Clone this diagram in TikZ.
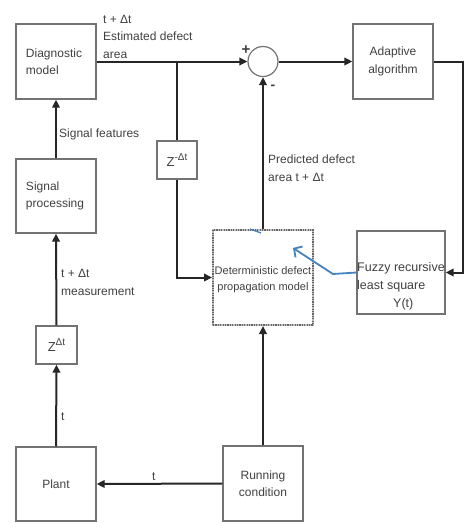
\documentclass[tikz,border=0pt]{standalone}
\usepackage{fontspec}
\setmainfont{Liberation Sans}
\usetikzlibrary{arrows.meta}
\definecolor{bl}{RGB}{70,130,190}
\begin{document}
\begin{tikzpicture}[x=1pt,y=-1pt,
  box/.style={draw=black!55, line width=1.3pt, inner sep=0pt, font=\fontsize{12}{17.5}\selectfont, text=black!75},
  conn/.style={draw=black!85, line width=2pt},
  arr/.style={conn, -{Triangle[length=8pt,width=7.5pt]}},
  lbl/.style={font=\fontsize{12}{17.5}\selectfont, text=black!75, inner sep=0pt, align=left},
  bluearr/.style={draw=bl, line width=1.8pt, -{Straight Barb[length=6pt,width=13pt]}},
]
\useasboundingbox (0,0) rectangle (468,523);
% boxes
\node[box, minimum width=80pt, minimum height=75pt, text width=60pt, align=left] (diag) at (56,61.5) {Diagnostic\\model};
\node[box, minimum width=80pt, minimum height=74pt, text width=60pt, align=left] (sig) at (56,196) {Signal\\processing};
\node[box, minimum width=41pt, minimum height=38pt] (zp) at (56.5,345) {\fontsize{13}{13}\selectfont Z\raisebox{6pt}{\fontsize{10}{10}\selectfont Δt}};
\node[box, minimum width=80pt, minimum height=74pt, align=center] (plant) at (56,484) {Plant};
\node[box, minimum width=80pt, minimum height=75pt, align=center] (run) at (263,483.5) {Running\\condition};
\node[box, minimum width=40pt, minimum height=38pt] (zm) at (177,160) {\fontsize{13}{13}\selectfont Z\raisebox{6pt}{\fontsize{10}{10}\selectfont -Δt}};
\node[box, minimum width=80pt, minimum height=75pt, align=center] (adapt) at (393,61.5) {Adaptive\\algorithm};
\node[circle, draw=black!55, line width=1.2pt, minimum size=30pt, inner sep=0pt] (sum) at (263,61.5) {};
\node[box, minimum width=88pt, minimum height=83pt] (fuzzy) at (401,272.5) {};
\node[lbl, anchor=base west, font=\fontsize{12.5}{18}\selectfont] (fuzzyt) at (357,307) {Fuzzy recursive\\least square\\\hspace*{36pt}Y(t)};
\node[draw=black!25, line width=2.6pt, minimum width=100pt, minimum height=95pt] (detbg) at (263,277.5) {};
\node[draw=black!60, line width=2pt, dash pattern=on 1.2pt off 1.2pt, minimum width=100pt, minimum height=95pt, inner sep=0pt] (det) at (263,277.5) {};
\node[lbl, align=center, font=\fontsize{11}{16}\selectfont] (dett) at (263,280) {Deterministic defect\\propagation model};
% labels
\node[lbl, anchor=base west] (l1) at (103,58) {t + Δt\\Estimated defect\\area};
\node[lbl, anchor=base west] (l2) at (59,137) {Signal features};
\node[lbl, anchor=base west, font=\fontsize{12}{18}\selectfont] (l3) at (61,295) {t + Δt\\measurement};
\node[lbl, anchor=base west] (l4) at (61,420) {t};
\node[lbl, anchor=base west] (l5) at (152,480) {t};
\node[lbl, anchor=base west, font=\fontsize{12}{18}\selectfont] (l6) at (268,181) {Predicted defect\\area t + Δt};
\node[lbl, font=\fontsize{15}{15}\selectfont\bfseries] (plus) at (246,50) {+};
\node[lbl, font=\fontsize{14}{14}\selectfont\bfseries] (minus) at (273,87) {-};
% connectors
\coordinate (j1) at (177,61.5);
\coordinate (c1) at (463,61.5);
\draw[arr] (diag.east) -- (sum.west);
\draw[conn] (j1) -- (zm.north);
\draw[arr] (zm.south) |- (det.west);
\draw[arr] (sum.east) -- (adapt.west);
\draw[arr] (adapt.east) -- (c1) |- (fuzzy.east);
\draw[arr] (det.north) -- (sum.south);
\draw[arr] (run.north) -- (det.south);
\draw[arr] (run.west) -- (plant.east);
\draw[arr] (plant.north) -- (zp.south);
\draw[arr] (zp.north) -- (sig.south);
\draw[arr] (sig.north) -- (diag.south);
% blue
\coordinate (b1) at (333,274);
\coordinate (b2) at (293,248);
\draw[bluearr] (fuzzy.west) -- (b1) -- (b2);
\coordinate (b3) at (250,229);
\coordinate (b4) at (261,233);
\draw[draw=bl, line width=1.3pt] (b3) -- (b4);
\end{tikzpicture}
\end{document}
